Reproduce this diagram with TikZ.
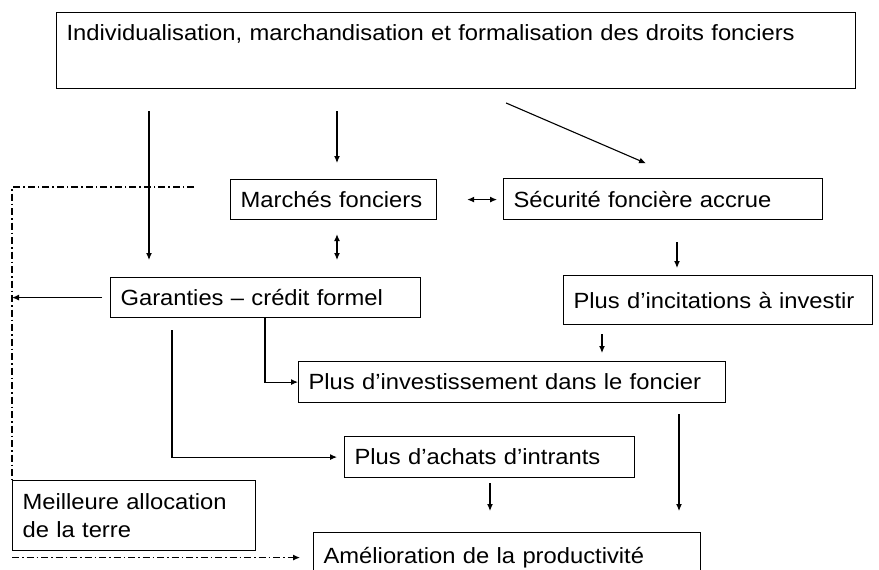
\documentclass[tikz,border=0pt]{standalone}
\usepackage{fontspec}
\setmainfont{Liberation Sans}[FakeStretch=1.08]
\usepackage{tikz}
\usetikzlibrary{arrows.meta}
\usetikzlibrary{calc}
\tikzstyle{box} = [draw,line width=1.2pt,anchor=north west,inner xsep=10pt,align=left,font=\fontsize{22}{28}\selectfont]
\tikzstyle{link} = [line width=1.1pt]
\tikzstyle{dashdot} = [line width=1.1pt,dash pattern=on 7pt off 3pt on 1.5pt off 3pt]

\begin{document}
\begin{tikzpicture}[>={Latex[length=7pt,width=6pt]},x=1pt,y=-1pt]
    \useasboundingbox (0,0) rectangle (879,570);
    \clip (0,0) rectangle (879,570);

% Draw blocks
    \node[box,text width=779pt,inner ysep=12pt,text depth=36pt] at (56,12) (top) {Individualisation, marchandisation et formalisation des droits fonciers};
    \node[box,text width=186pt,minimum height=40pt] at (230,179) (marches) {Marchés fonciers};
    \node[box,text width=299pt,minimum height=41pt] at (503,178) (securite) {Sécurité foncière accrue};
    \node[box,text width=290pt,minimum height=40pt] at (110,277) (garanties) {Garanties – crédit formel};
    \node[box,text width=289pt,minimum height=49pt] at (563,275) (incitations) {Plus d’incitations à investir};
    \node[box,text width=407pt,minimum height=41pt] at (298,361) (investissement) {Plus d’investissement dans le foncier};
    \node[box,text width=270pt,minimum height=41pt] at (344,436) (achats) {Plus d’achats d’intrants};
    \node[box,text width=223pt,minimum height=70pt] at (12,480) (meilleure) {Meilleure allocation\\de la terre};
    \node[box,text width=367pt,minimum height=50pt] at (313,532) (amelioration) {Amélioration de la productivité};

% Draw arrows
    \draw[link,->] ([xshift=93pt,yshift=-22pt]top.south west) -- ([xshift=39pt,yshift=17pt]garanties.north west);
    \draw[link,->] ([xshift=281pt,yshift=-22pt]top.south west) -- ([xshift=107pt,yshift=16pt]marches.north west);
    \draw[link,->,shorten <=35pt,shorten >=37pt] ([xshift=418pt]top.south west) -- ([xshift=177pt]securite.north west);
    \draw[link,<->,shorten <=30pt,shorten >=6pt] (marches.east) -- (marches.east -| securite.west);
    \draw[link,<->,shorten <=14pt,shorten >=17pt] ([xshift=107pt]marches.south west) -- ([xshift=227pt]garanties.north west);
    \draw[link,->,shorten <=22pt,shorten >=7pt] ([xshift=174pt]securite.south west) -- ([xshift=114pt]incitations.north west);
    \draw[link,->,shorten <=9pt,shorten >=8pt] ([xshift=39pt]incitations.south west) -- ([xshift=304pt]investissement.north west);
    \draw[link,->] ([xshift=155pt]garanties.south west) |- (investissement.west);
    \draw[link,->,shorten >=7pt] ([xshift=62pt,yshift=-12pt]garanties.south west) |- (achats.west);
    \draw[link,->,shorten <=5pt,shorten >=21pt] ([xshift=146pt]achats.south west) -- ([xshift=177pt]amelioration.north west);
    \draw[link,->,shorten <=11pt,shorten >=21pt] ([xshift=381pt]investissement.south west) -- ([xshift=366pt]amelioration.north west);

% Dash-dot return path
    \coordinate (ddstart) at (194,187);
    \coordinate (ddcorner) at (12,187);
    \draw[dashdot] (ddstart) -- (ddcorner) -- (ddcorner |- meilleure.north);
    \draw[link,->,shorten <=8pt] (garanties.west) -- (garanties.west -| ddcorner);
    \draw[dashdot,->,shorten >=13pt] (meilleure.south west |- amelioration.west) -- (amelioration.west);

\end{tikzpicture}
\end{document}
